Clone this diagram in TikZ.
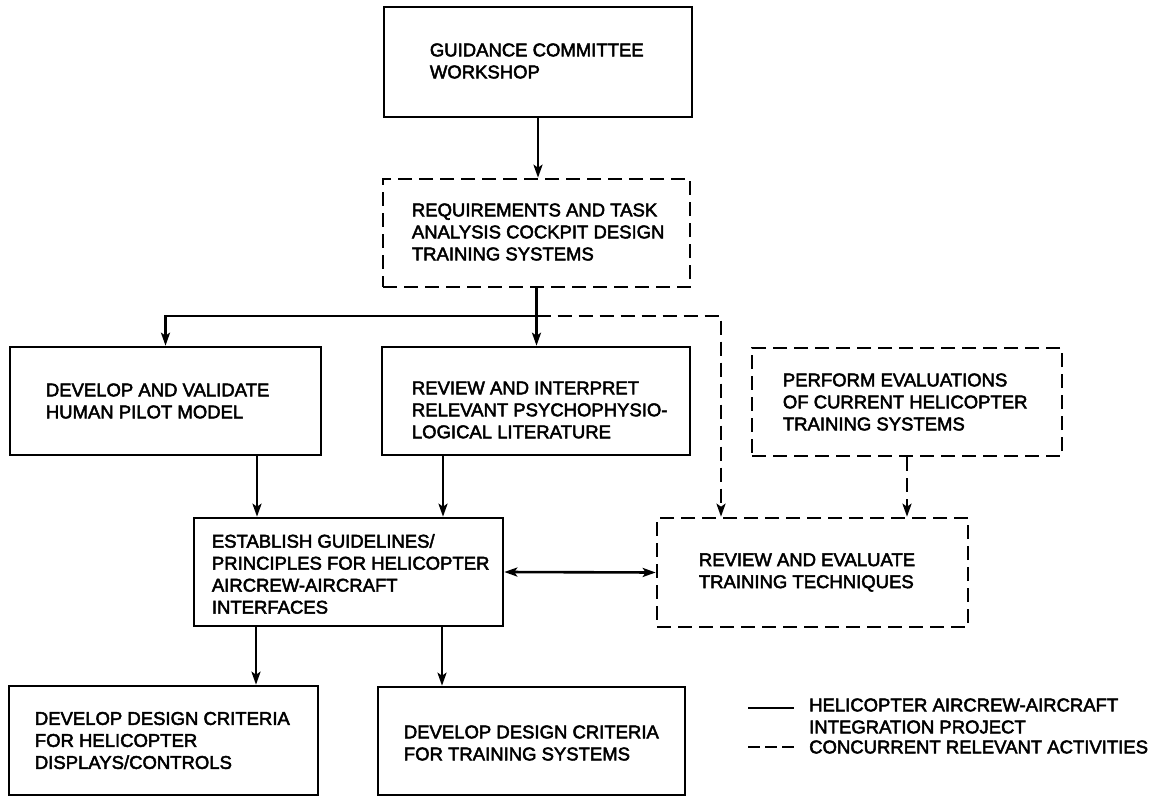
\documentclass[tikz,border=0pt]{standalone}
\usepackage{fontspec}
\setmainfont{Liberation Sans}
\newfontfamily\medfont{Liberation Sans}[FakeBold=2.6]
\usetikzlibrary{arrows.meta}
\tikzset{
  sbox/.style={draw, line width=2.6pt, inner sep=0pt, rectangle},
  dbox/.style={sbox, dash pattern=on 14pt off 7pt},
  txt/.style={inner sep=0pt, align=left, font=\medfont\fontsize{18.5}{22}\selectfont},
  tip/.tip={Stealth[length=13pt,width=9pt,inset=3pt]},
  arr/.style={line width=2.6pt, -tip},
  darr/.style={arr, dash pattern=on 14pt off 7pt},
  dbl/.style={line width=2.6pt, tip-tip},
  sline/.style={line width=2.6pt},
  dline/.style={line width=2.6pt, dash pattern=on 12pt off 5pt}
}
\begin{document}
\begin{tikzpicture}[x=1pt,y=-1pt]
\useasboundingbox (0,0) rectangle (1165,797);
% boxes
\node[sbox, minimum width=308, minimum height=110] (gc) at (538,62) {};
\node[dbox, minimum width=307, minimum height=108] (req) at (536.5,233) {};
\node[sbox, minimum width=311, minimum height=108] (hpm) at (165.5,401) {};
\node[sbox, minimum width=308, minimum height=108] (rev) at (536,401) {};
\node[dbox, minimum width=310, minimum height=108] (perf) at (907,402) {};
\node[sbox, minimum width=309, minimum height=108] (est) at (348.5,572) {};
\node[dbox, minimum width=311, minimum height=109] (rte) at (812.5,572.5) {};
\node[sbox, minimum width=309, minimum height=109] (dda) at (163.5,740.5) {};
\node[sbox, minimum width=307, minimum height=108] (ddb) at (531.5,741) {};
% texts
\node[txt, anchor=west] (tgc) at ([xshift=47pt,yshift=1pt]gc.west) {GUIDANCE COMMITTEE\\WORKSHOP};
\node[txt, anchor=west] (treq) at ([xshift=30pt,yshift=1pt]req.west) {REQUIREMENTS AND TASK\\ANALYSIS COCKPIT DESIGN\\TRAINING SYSTEMS};
\node[txt, anchor=west] (thpm) at ([xshift=37pt]hpm.west) {DEVELOP AND VALIDATE\\HUMAN PILOT MODEL};
\node[txt, anchor=west] (trev) at ([xshift=31pt,yshift=-9pt]rev.west) {REVIEW AND INTERPRET\\RELEVANT PSYCHOPHYSIO-\\LOGICAL LITERATURE};
\node[txt, anchor=west] (tperf) at ([xshift=32pt]perf.west) {PERFORM EVALUATIONS\\OF CURRENT HELICOPTER\\TRAINING SYSTEMS};
\node[txt, anchor=west] (test) at ([xshift=19pt,yshift=-2pt]est.west) {ESTABLISH GUIDELINES/\\PRINCIPLES FOR HELICOPTER\\AIRCREW-AIRCRAFT\\INTERFACES};
\node[txt, anchor=west] (trte) at ([xshift=43pt]rte.west) {REVIEW AND EVALUATE\\TRAINING TECHNIQUES};
\node[txt, anchor=west] (tdda) at ([xshift=27pt]dda.west) {DEVELOP DESIGN CRITERIA\\FOR HELICOPTER\\DISPLAYS/CONTROLS};
\node[txt, anchor=west] (tddb) at ([xshift=27pt,yshift=-2pt]ddb.west) {DEVELOP DESIGN CRITERIA\\FOR TRAINING SYSTEMS};
% connectors
\draw[arr] (gc.south) -- (gc.south |- req.north);
\draw[arr] (req.south) -- (req.south |- rev.north);
\coordinate (j) at (536.5,316);
\coordinate (k) at (721,316);
\draw[arr] (j) -| (hpm.north);
\draw[darr] (j) -- (k) -- (k |- rte.north);
\draw[darr] (perf.south) -- (perf.south |- rte.north);
\draw[arr] ([xshift=91.5pt]hpm.south) -- ([xshift=91.5pt]hpm.south |- est.north);
\draw[arr] ([xshift=-93pt]rev.south) -- ([xshift=-93pt]rev.south |- est.north);
\draw[dbl] (est.east) -- (rte.west);
\draw[arr] ([xshift=-92.5pt]est.south) -- ([xshift=-92.5pt]est.south |- dda.north);
\draw[arr] ([xshift=93.5pt]est.south) -- ([xshift=93.5pt]est.south |- ddb.north);
% legend
\node[txt, anchor=west] (lg1) at (809,716) {HELICOPTER AIRCREW-AIRCRAFT\\INTEGRATION PROJECT};
\node[txt, anchor=west] (lg2) at (809,747) {CONCURRENT RELEVANT ACTIVITIES};
\coordinate (ls1) at (748,708);
\coordinate (le1) at (794,708);
\coordinate (ls2) at (748,747);
\coordinate (le2) at (796,747);
\draw[sline] (ls1) -- (le1);
\draw[dline] (ls2) -- (le2);
\end{tikzpicture}
\end{document}
